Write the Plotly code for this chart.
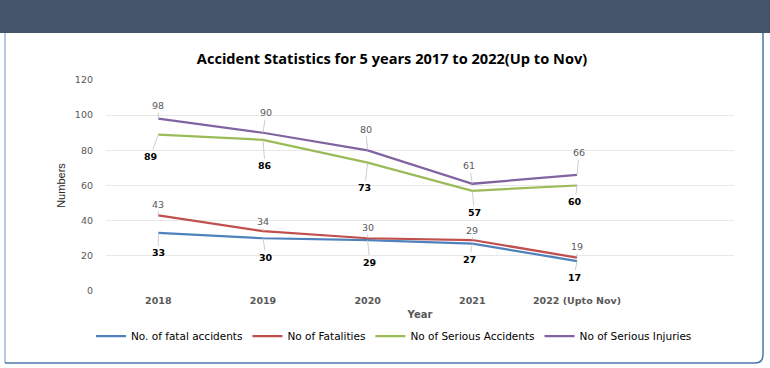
import plotly.graph_objects as go

# ---- data ----
years = ["2018", "2019", "2020", "2021", "2022 (Upto Nov)"]
fatal_accidents = [33, 30, 29, 27, 17]
fatalities = [43, 34, 30, 29, 19]
serious_accidents = [89, 86, 73, 57, 60]
serious_injuries = [98, 90, 80, 61, 66]

series_names = ["No. of fatal accidents", "No of Fatalities",
                "No of Serious Accidents", "No of Serious Injuries"]
series_values = [fatal_accidents, fatalities, serious_accidents, serious_injuries]
series_colors = ["#4F81BD", "#C0504D", "#9BBB59", "#8064A2"]

# label offsets (pixels) for each series' data labels
label_dx = [[0, 3, 2, -3, -3], [0, 0, 0, 0, 0], [-8, 2, -3, 2, -2], [0, 3, -2, -3, 2]]
label_dy = [[20, 19, 22, 16, 16], [-11, -10, -11, -10, -11], [22, 26, 25, 22, 16], [-13, -20, -21, -18, -22]]
label_bold = [True, False, True, False]

W, H = 770, 368
L, R, T, B = 106, 36, 80, 77
pw, ph = W - L - R, H - T - B

def px(xp):
    return (xp - L) / pw

def py(yp):
    return (H - B - yp) / ph

xs = list(range(len(years)))

fig = go.Figure()
for name, vals, col in zip(series_names, series_values, series_colors):
    fig.add_trace(go.Scatter(x=xs, y=vals, mode="lines", name=name,
                             line=dict(color=col, width=2.25)))

annotations = []
for si, vals in enumerate(series_values):
    for i, v in enumerate(vals):
        bold = label_bold[si]
        annotations.append(dict(
            x=xs[i], y=v, xref="x", yref="y", text=str(v),
            showarrow=True, arrowhead=0, arrowwidth=0.8, arrowcolor="#BFBFBF",
            ax=label_dx[si][i], ay=label_dy[si][i],
            font=dict(family="DejaVu Sans", size=9.5,
                      color="#000000" if bold else "#595959",
                      weight="bold" if bold else "normal"),
        ))

shapes = [
    # header bar
    dict(type="rect", xref="paper", yref="paper",
         x0=px(0), x1=px(W), y0=py(33), y1=py(0),
         fillcolor="#44546A", line=dict(width=0), layer="below"),
    # left border
    dict(type="line", xref="paper", yref="paper",
         x0=px(5), x1=px(5), y0=py(33), y1=py(363),
         line=dict(color="#9FB8D4", width=1.5)),
    # right border with rounded bottom corner
    dict(type="path", xref="paper", yref="paper",
         path=f"M {px(763)} {py(33)} L {px(763)} {py(355)} Q {px(763)} {py(363)} {px(755)} {py(363)} L {px(5)} {py(363)}",
         line=dict(color="#4A78A8", width=1.5)),
]

fig.update_layout(
    width=W, height=H,
    margin=dict(l=L, r=R, t=T, b=B, autoexpand=False),
    paper_bgcolor="white", plot_bgcolor="white",
    title=dict(text="<b>Accident Statistics for 5 years 2017 to 2022(Up to Nov)</b>",
               x=392 / W, xanchor="center", y=1 - 59 / H, yanchor="middle",
               font=dict(family="Open Sans", size=14.6, color="#000000")),
    xaxis=dict(range=[-0.5, 5.5], tickmode="array", tickvals=xs, ticktext=years,
               showgrid=False, zeroline=False, showline=False, ticks="",
               automargin=False, ticklabelstandoff=2,
               tickfont=dict(family="DejaVu Sans", size=9.5, color="#595959", weight="bold"),
               title=dict(text="<b>Year</b>", standoff=6,
                          font=dict(family="DejaVu Sans", size=10, color="#595959"))),
    yaxis=dict(range=[0, 120], tickvals=[0, 20, 40, 60, 80, 100, 120],
               showgrid=True, gridcolor="#E8E8E8", gridwidth=1, zeroline=False,
               ticks="", ticklabelstandoff=12, automargin=False,
               tickfont=dict(family="DejaVu Sans", size=9.5, color="#595959"),
               title=dict(text="Numbers", standoff=7,
                          font=dict(family="Liberation Sans", size=11, color="#262626"))),
    legend=dict(orientation="h", x=px(394), xanchor="center",
                y=py(336), yanchor="middle",
                font=dict(family="DejaVu Sans", size=10.5, color="#000000"),
                itemwidth=30, tracegroupgap=0),
    annotations=annotations,
    shapes=shapes,
)

fig.write_html("out.html", config={"displayModeBar": False},
               post_script="document.body.style.margin='0';")
